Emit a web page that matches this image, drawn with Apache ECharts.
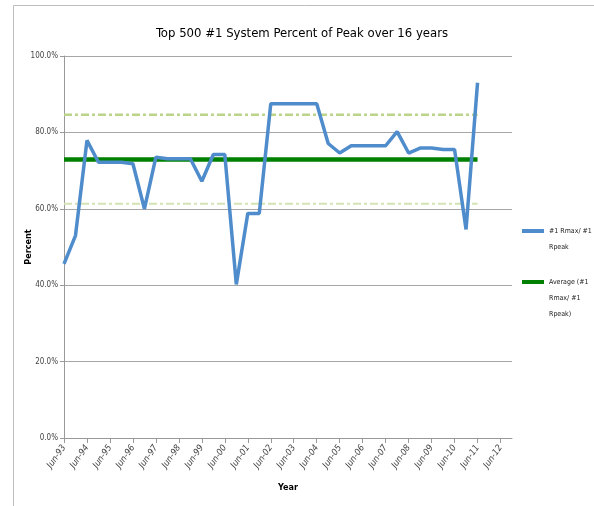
<!DOCTYPE html>
<html><head><meta charset="utf-8">
<script src="https://cdn.jsdelivr.net/npm/echarts@6/dist/echarts.min.js"></script>
<style>html,body{margin:0;padding:0;background:#fff}#c{width:594px;height:506px}</style>
</head><body><div id="c"></div>
<script>
// half-year list categories Jun-93 .. Nov-12
const categories = ["Jun-93","Nov-93","Jun-94","Nov-94","Jun-95","Nov-95","Jun-96","Nov-96","Jun-97","Nov-97","Jun-98","Nov-98","Jun-99","Nov-99","Jun-00","Nov-00","Jun-01","Nov-01","Jun-02","Nov-02","Jun-03","Nov-03","Jun-04","Nov-04","Jun-05","Nov-05","Jun-06","Nov-06","Jun-07","Nov-07","Jun-08","Nov-08","Jun-09","Nov-09","Jun-10","Nov-10","Jun-11","Nov-11","Jun-12","Nov-12"];
// #1 Rmax / #1 Rpeak (fraction)
const ratio = [0.456,0.530,0.779,0.722,0.722,0.722,0.718,0.600,0.735,0.731,0.731,0.731,0.672,0.742,0.742,0.402,0.588,0.588,0.875,0.875,0.875,0.875,0.875,0.771,0.746,0.765,0.765,0.765,0.765,0.802,0.746,0.759,0.759,0.755,0.755,0.546,0.930];
const averageValue = 0.729;
const upperValue = 0.846;
const lowerValue = 0.613;

const avg = ratio.map(() => averageValue);
const upper = ratio.map(() => upperValue);
const lower = ratio.map(() => lowerValue);

const font = "'DejaVu Sans Condensed','Liberation Sans Narrow','Liberation Sans',sans-serif";
const chart = echarts.init(document.getElementById('c'));
const legendText = {fontFamily: font, fontSize: 7, color: '#222', lineHeight: 16};
chart.setOption({
  animation: false,
  backgroundColor: '#fff',
  title: {
    text: 'Top 500 #1 System Percent of Peak over 16 years',
    left: 297, top: 22, textAlign: 'center',
    textStyle: {fontFamily: font, fontSize: 13, fontWeight: 'normal', color: '#000'}
  },
  graphic: [{
    type: 'rect', shape: {x: 13.5, y: 5.5, width: 700, height: 700},
    style: {fill: 'none', stroke: '#bdbdbd', lineWidth: 1}, silent: true
  }],
  grid: {left: 64, right: 82, top: 56, bottom: 68},
  legend: [{
    orient: 'vertical', left: 517, top: 202,
    itemWidth: 22, itemHeight: 4, icon: 'rect',
    data: ['#1 Rmax/ #1 Rpeak'],
    formatter: () => '\n#1 Rmax/ #1\nRpeak',
    textStyle: legendText
  }, {
    orient: 'vertical', left: 517, top: 237,
    itemWidth: 22, itemHeight: 4, icon: 'rect',
    data: ['Average (#1 Rmax/ #1 Rpeak)'],
    formatter: () => '\n\nAverage (#1\nRmax/ #1\nRpeak)',
    textStyle: legendText
  }],
  xAxis: {
    type: 'category', data: categories, boundaryGap: false,
    name: 'Year', nameLocation: 'middle', nameGap: 45, nameMoveOverlap: false,
    nameTextStyle: {fontFamily: font, fontSize: 9, fontWeight: 'bold', color: '#000'},
    axisLine: {lineStyle: {color: '#999', width: 1}},
    axisTick: {show: true, interval: 1, length: 5, lineStyle: {color: '#999'}},
    axisLabel: {interval: 1, rotate: 55, fontFamily: font, fontSize: 9, fontStyle: 'italic', color: '#444', margin: 8},
    splitLine: {show: false}
  },
  yAxis: {
    type: 'value', min: 0, max: 1, interval: 0.2,
    name: 'Percent', nameLocation: 'middle', nameGap: 31, nameRotate: 90, nameMoveOverlap: false,
    nameTextStyle: {fontFamily: font, fontSize: 9, fontWeight: 'bold', color: '#000'},
    axisLine: {show: true, lineStyle: {color: '#999'}},
    axisTick: {show: true, length: 4, lineStyle: {color: '#999'}},
    axisLabel: {fontFamily: font, fontSize: 8, color: '#444', margin: 6,
      formatter: v => (v * 100).toFixed(1) + '%'},
    splitLine: {lineStyle: {color: '#a6a6a6', width: 1}}
  },
  series: [
    {name: 'upper', type: 'line', data: upper, symbol: 'none', silent: true,
      lineStyle: {color: '#bcd38a', width: 2.5, type: [8, 3, 3, 3]}, z: 2},
    {name: 'lower', type: 'line', data: lower, symbol: 'none', silent: true,
      lineStyle: {color: '#d4e2b4', width: 2, type: [8, 3, 3, 3]}, z: 2},
    {name: 'Average (#1 Rmax/ #1 Rpeak)', type: 'line', data: avg, symbol: 'none',
      itemStyle: {color: '#008000'}, lineStyle: {color: '#008000', width: 4.5}, z: 3},
    {name: '#1 Rmax/ #1 Rpeak', type: 'line', data: ratio, symbol: 'none',
      itemStyle: {color: '#4f8ccc'}, lineStyle: {color: '#4f8ccc', width: 3.5}, z: 4}
  ]
});
</script></body></html>
